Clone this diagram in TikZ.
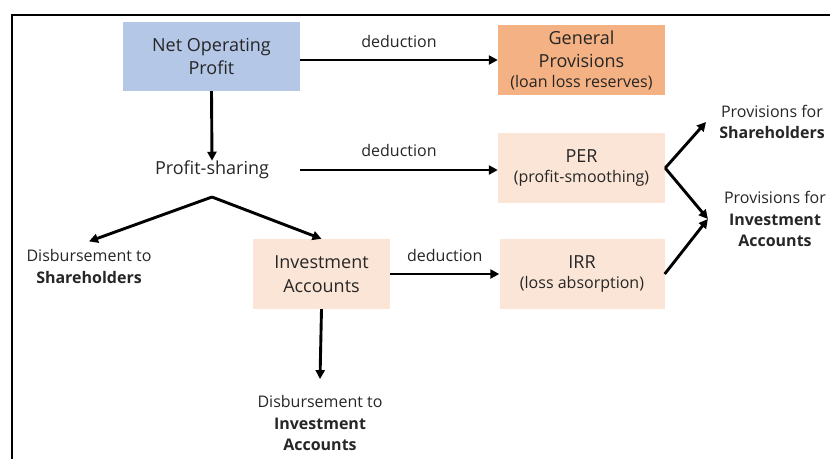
\documentclass[tikz,border=0pt]{standalone}
\usepackage{fontspec}
\setmainfont{Open Sans}
\usetikzlibrary{arrows.meta}
\definecolor{nopblue}{HTML}{B4C7E7}
\definecolor{gporange}{HTML}{F4B183}
\definecolor{peach}{HTML}{FBE5D6}
\definecolor{txt}{HTML}{262626}
\begin{document}
\begin{tikzpicture}[x=1pt,y=-1pt,
  box/.style={draw=none, inner sep=0pt, align=center, text=txt,
    font=\fontsize{18}{23.5}\selectfont},
  sm/.style={font=\fontsize{16}{20}\selectfont},
  lbl/.style={inner sep=0pt, align=center, text=txt,
    font=\fontsize{16}{21.5}\selectfont},
  arr/.style={line width=2.9pt, -{Triangle[length=9pt,width=9pt]}},
  ln/.style={line width=2.9pt}]
\useasboundingbox (0,0) rectangle (830,459);
\draw[line width=1.5pt] (12,459) -- (12,15) -- (830,15);

% boxes
\node[box, fill=nopblue, minimum width=177pt, minimum height=69pt] (nop) at (211.5,56.5) {Net Operating\\Profit};
\node[box, fill=gporange, minimum width=167pt, minimum height=70pt] (gp) at (581.5,60)
  {General\\Provisions\\[-4pt]{\fontsize{16}{20}\selectfont(loan loss reserves)}};
\node[box, fill=peach, minimum width=167pt, minimum height=70pt] (per) at (581.5,168)
  {PER\\[-4pt]{\fontsize{16}{20}\selectfont(profit-smoothing)}};
\node[box, fill=peach, minimum width=165pt, minimum height=70pt] (irr) at (582,274)
  {IRR\\[-4pt]{\fontsize{16}{20}\selectfont(loss absorption)}};
\node[box, fill=peach, minimum width=137pt, minimum height=70pt] (ia) at (321.5,274)
  {Investment\\Accounts};

% text nodes
\node[box, minimum width=176pt] (ps) at (212,170) {Profit-sharing};
\node[lbl, inner ysep=8pt] (dsh) at (89,266.5) {Disbursement to\\\textbf{Shareholders}};
\node[lbl, inner ysep=16pt] (dia) at (320,423) {Disbursement to\\\textbf{Investment}\\\textbf{Accounts}};
\node[lbl, inner xsep=13pt] (psh) at (772,122) {Provisions for\\\textbf{Shareholders}};
\node[lbl, inner xsep=16pt] (pia) at (775,219) {Provisions for\\\textbf{Investment}\\\textbf{Accounts}};

% connectors
\draw[arr] (nop.east |- gp.west) -- node[lbl, above=11pt] {deduction} (gp.west);
\draw[arr] (nop.south) -- (ps.north);
\draw[arr] (ps.east) -- node[lbl, above=12pt] {deduction} (ps.east -| per.west);
\draw[arr] (ia.east) -- node[lbl, above=11pt] {deduction} (irr.west);

\coordinate (fork) at (212,197);
\draw[arr] (fork) -- (dsh.north);
\draw[arr] (fork) -- (ia.north);
\draw[arr] (ia.south) -- (dia.north);

\draw[arr] (per.east) -- (psh.west);
\draw[arr] (per.east) -- (pia.west);
\draw[arr] (irr.east) -- (pia.west);
\end{tikzpicture}
\end{document}
